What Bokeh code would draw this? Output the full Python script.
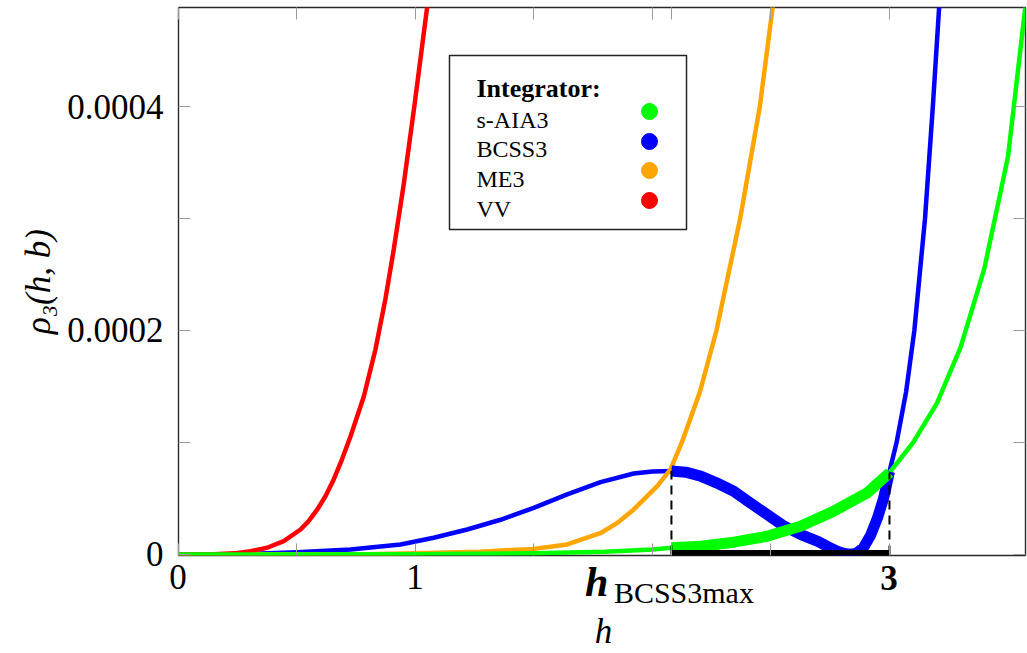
import numpy as np
from bokeh.plotting import figure
from bokeh.layouts import column
from bokeh.models import (Range1d, FixedTicker, LinearAxis, Label, BoxAnnotation,
                          Legend, LegendItem, Div)
from bokeh.embed import file_html
from bokeh.resources import INLINE

# ---------------- data ----------------
H_MAX = 2.08      # h_BCSS3max
H_UPPER = 3       # upper end of the interval

h_vv = [0.0, 0.15, 0.234, 0.304, 0.374, 0.444, 0.515, 0.55, 0.585, 0.62, 0.655, 0.69,
        0.726, 0.782, 0.831, 0.873, 0.908, 0.95, 0.995, 1.05]
rho_vv = [0.0, 0.002e-4, 0.01e-4, 0.03e-4, 0.06e-4, 0.119e-4, 0.223e-4, 0.30e-4,
          0.40e-4, 0.52e-4, 0.67e-4, 0.85e-4, 1.056e-4, 1.41e-4, 1.83e-4, 2.28e-4,
          2.72e-4, 3.3e-4, 4.0e-4, 4.9e-4]

h_me3 = [0.0, 0.8, 1.0, 1.27, 1.5, 1.64, 1.78, 1.85, 1.92, 2.02, 2.076, 2.124,
         2.2, 2.27, 2.37, 2.453, 2.508]
rho_me3 = [0.0, 0.003e-4, 0.01e-4, 0.025e-4, 0.05e-4, 0.09e-4, 0.19e-4, 0.28e-4,
           0.40e-4, 0.61e-4, 0.76e-4, 1.0e-4, 1.45e-4, 2.0e-4, 3.0e-4, 4.0e-4, 4.9e-4]

h_bcss3 = [0.0, 0.3, 0.5, 0.726, 0.937, 1.077, 1.218, 1.359, 1.499, 1.64, 1.781,
           1.921, 2.0, 2.08, 2.14, 2.203, 2.27, 2.343, 2.41, 2.484, 2.55, 2.624, 2.70,
           2.74, 2.78, 2.81, 2.835, 2.86, 2.89, 2.92, 2.95, 2.975, 3.0, 3.03, 3.07,
           3.105, 3.15, 3.183, 3.21]
rho_bcss3 = [0.0, 0.005e-4, 0.02e-4, 0.045e-4, 0.089e-4, 0.149e-4, 0.223e-4, 0.31e-4,
             0.417e-4, 0.536e-4, 0.646e-4, 0.723e-4, 0.742e-4, 0.745e-4, 0.735e-4,
             0.70e-4, 0.64e-4, 0.565e-4, 0.465e-4, 0.357e-4, 0.26e-4, 0.179e-4,
             0.115e-4, 0.07e-4, 0.03e-4, 0.008e-4, 0.003e-4, 0.01e-4, 0.06e-4, 0.17e-4,
             0.33e-4, 0.50e-4, 0.74e-4, 1.0e-4, 1.45e-4, 2.0e-4, 3.0e-4, 4.0e-4, 4.9e-4]

h_saia3 = [0.0, 1.0, 1.5, 1.8, 2.0, 2.08, 2.203, 2.343, 2.484, 2.624, 2.765, 2.906,
           3.0, 3.1, 3.2, 3.3, 3.4, 3.5, 3.574]
rho_saia3 = [0.0, 0.003e-4, 0.01e-4, 0.025e-4, 0.045e-4, 0.06e-4, 0.074e-4, 0.11e-4,
             0.163e-4, 0.253e-4, 0.387e-4, 0.55e-4, 0.73e-4, 1.0e-4, 1.35e-4,
             1.85e-4, 2.55e-4, 3.55e-4, 4.9e-4]

x_major = [0, 1]
x_minor = [0.5, 1.5, 2, H_MAX, 2.5, 3]
x_tick_labels = {0: "0", 1: "1"}
y_major = [0, 0.0002, 0.0004]
y_minor = [0.0001, 0.0003]
y_tick_labels = {0: "0", 0.0002: "0.0002", 0.0004: "0.0004"}

names = ["s-AIA3", "BCSS3", "ME3", "VV"]
colors = ["#00ff00", "#0000ff", "#ffa500", "#ff0000"]

SERIF = "Liberation Serif"
X_END = 3.574
FRAME_W, FRAME_H = 847, 548
LEFT, TOP, RIGHT, BOTTOM = 178, 7, 2, 22

# ---------------- main figure ----------------
p = figure(frame_width=FRAME_W, frame_height=FRAME_H,
           x_range=Range1d(0, X_END), y_range=Range1d(-0.009e-4, 4.884e-4),
           output_backend="svg", toolbar_location=None,
           min_border_left=LEFT, min_border_right=RIGHT, min_border_top=TOP,
           min_border_bottom=BOTTOM)
p.background_fill_color = "white"
p.border_fill_color = "white"
p.grid.visible = False
p.outline_line_color = "#2a2a2a"
p.outline_line_width = 1.4

def style_ticks(ax, major, minor):
    ax.ticker = FixedTicker(ticks=major, minor_ticks=minor)
    for kind in ("major", "minor"):
        setattr(ax, kind + "_tick_in", 12)
        setattr(ax, kind + "_tick_out", 0)
        setattr(ax, kind + "_tick_line_color", "#9a9a9a")
        setattr(ax, kind + "_tick_line_width", 1)
    ax.axis_line_color = None
    ax.major_label_standoff = 0
    ax.axis_label = None

# left axis with labels
style_ticks(p.yaxis[0], y_major, y_minor)
p.yaxis[0].major_label_overrides = y_tick_labels
p.yaxis[0].major_label_text_font = SERIF
p.yaxis[0].major_label_text_font_size = "35px"
p.yaxis[0].major_label_text_color = "black"
p.yaxis[0].major_label_standoff = 15
p.yaxis[0].axis_label = "ρ₃(h, b)"
p.yaxis[0].axis_label_text_font = SERIF
p.yaxis[0].axis_label_text_font_style = "italic"
p.yaxis[0].axis_label_text_font_size = "35px"
p.yaxis[0].axis_label_text_color = "black"
p.yaxis[0].axis_label_standoff = 6

# bottom / top / right axes: ticks only (x labels are in the strip below)
style_ticks(p.xaxis[0], [], x_major + x_minor)
top_axis = LinearAxis()
style_ticks(top_axis, [], x_major + x_minor)
p.add_layout(top_axis, "above")
right_axis = LinearAxis()
style_ticks(right_axis, [], y_major + y_minor)
p.add_layout(right_axis, "right")

# ---------------- curves ----------------
LW = 4.5
p.line(h_bcss3, rho_bcss3, line_color=colors[1], line_width=LW, line_join="round")
p.line(h_me3, rho_me3, line_color=colors[2], line_width=LW, line_join="round")
p.line(h_vv, rho_vv, line_color=colors[3], line_width=LW, line_join="round")
p.line(h_saia3, rho_saia3, line_color=colors[0], line_width=LW, line_join="round")

hb = np.array(h_bcss3); rb = np.array(rho_bcss3)
mb = (hb >= H_MAX) & (hb <= H_UPPER)
p.line(hb[mb], rb[mb], line_color=colors[1], line_width=11, line_join="round")

hs = np.array(h_saia3); rs = np.array(rho_saia3)
ms = (hs >= H_MAX) & (hs <= H_UPPER)
p.line(hs[ms], rs[ms], line_color=colors[0], line_width=11, line_join="round")

peak_val = float(rb[np.isclose(hb, H_MAX)][0])
upper_val = float(rs[np.isclose(hs, H_UPPER)][0])
p.segment(x0=[H_MAX, H_UPPER], y0=[0, 0], x1=[H_MAX, H_UPPER], y1=[peak_val, upper_val],
          line_color="black", line_width=2, line_dash="9 6")
p.line([H_MAX, H_UPPER], [0, 0], line_color="black", line_width=9)

# ---------------- legend ----------------
p.add_layout(BoxAnnotation(left=449, right=686, top=55, bottom=229,
                           left_units="canvas", right_units="canvas",
                           top_units="canvas", bottom_units="canvas",
                           fill_color="white", fill_alpha=1.0,
                           line_color="#222222", line_alpha=1.0, line_width=1.5,
                           level="annotation"))

dummies = [p.scatter(x=[np.nan], y=[np.nan], size=16, marker="circle",
                     fill_color=c, line_color=c) for c in colors]

def dot_legend(idx, loc):
    return Legend(items=[LegendItem(label=" ", renderers=[dummies[i]]) for i in idx],
                  location=loc, glyph_width=40, glyph_height=40, spacing=19,
                  padding=0, margin=0, label_standoff=0, label_width=1, label_height=1,
                  label_text_font_size="1px", label_text_color=None,
                  border_line_color=None, background_fill_alpha=0.0)

p.add_layout(dot_legend([0, 2], (451, 365)))
p.add_layout(dot_legend([1, 3], (451, 335)))

p.add_layout(Label(x=476, y=87.5, x_units="canvas", y_units="canvas", text="Integrator:",
                   text_font=SERIF, text_font_style="bold", text_font_size="26px",
                   text_color="black", text_baseline="alphabetic"))
for i, nm in enumerate(names):
    p.add_layout(Label(x=476, y=119 + 29.7 * i, x_units="canvas", y_units="canvas",
                       text=nm, text_font=SERIF, text_font_size="24px",
                       text_color="black", text_baseline="alphabetic"))

# ---------------- strip below: x tick labels and x axis label ----------------
px_per_unit = FRAME_W / X_END
strip_top = TOP + FRAME_H + BOTTOM
STRIP_H = 653 - strip_top

def xpx(v):
    return LEFT + v * px_per_unit

def span(left, baseline, text, size, style="", center=True, lh=1.0):
    top = baseline - strip_top - (lh / 2 + 0.3375) * size
    tr = "transform:translateX(-50%);" if center else ""
    return (f'<span style="position:absolute;left:{left:.1f}px;top:{top:.1f}px;{tr}'
            f'font-size:{size}px;line-height:{lh};white-space:nowrap;{style}">{text}</span>')

parts = []
for xv, txt in x_tick_labels.items():
    parts.append(span(xpx(xv), 590, txt, 35, lh=0.8))
parts.append(span(xpx(H_UPPER), 591, "3", 35, "font-weight:bold;", lh=0.8))
parts.append(span(xpx(H_MAX) - 86, 597, "h", 42, "font-weight:bold;font-style:italic;",
                  center=False, lh=0.8))
parts.append(span(xpx(H_MAX) - 57, 603, "BCSS3max", 30, center=False, lh=0.8))
parts.append(span(xpx(X_END / 2) + 2, 644, "h", 35, "font-style:italic;", lh=0.8))

html = (f'<div style="position:relative;overflow:visible;width:{LEFT + FRAME_W + RIGHT}px;'
        f'height:{STRIP_H}px;font-family:\'{SERIF}\';color:black;">' + "".join(parts) + '</div>')
strip = Div(text=html, width=LEFT + FRAME_W + RIGHT, height=STRIP_H, margin=0,
            styles={"overflow": "visible", "z-index": "5"})

layout = column(p, strip, spacing=0)
open("out.html", "w").write(file_html(layout, INLINE))
